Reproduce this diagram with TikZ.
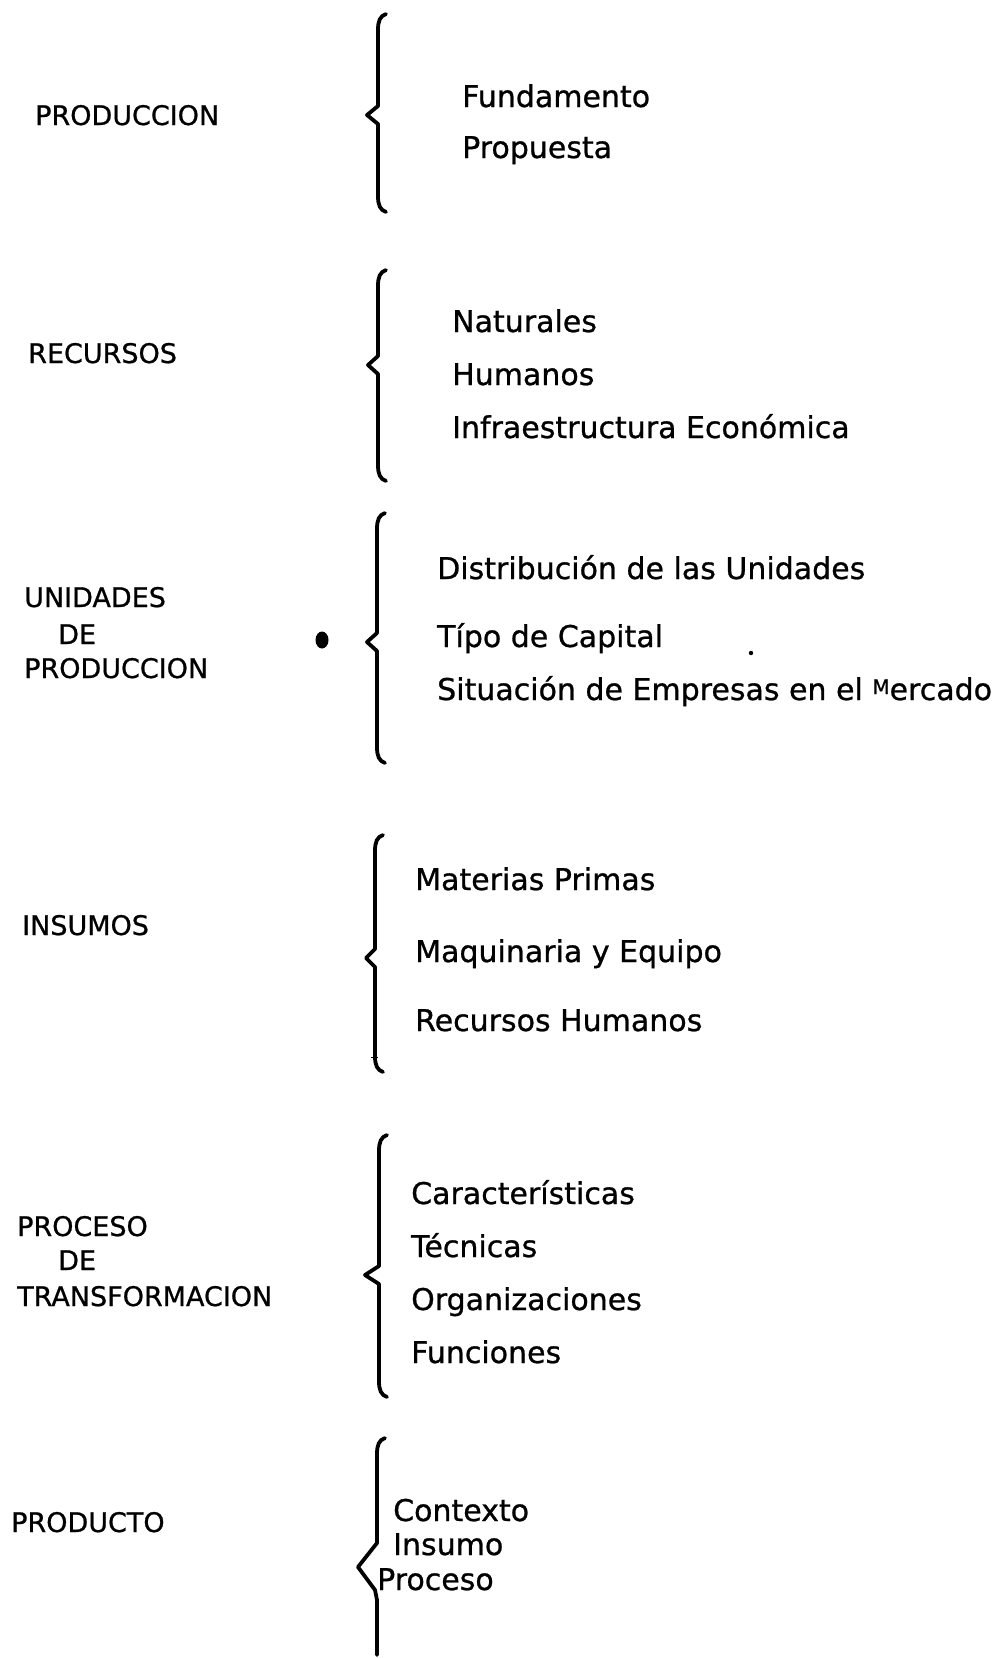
\documentclass[tikz,border=0pt]{standalone}
\usepackage{fontspec}
\setmainfont{DejaVu Sans}[FakeBold=0.8]
\newcommand\mybrace[5]{% x, top, tip, bottom, depth
 \draw[brc] ({#1+8},#2) .. controls ({#1+2},{#2+2}) and (#1,{#2+7}) .. (#1,{#2+16}) -- (#1,{#3-9}) -- ({#1-#5},#3) -- (#1,{#3+9}) -- (#1,{#4-16}) .. controls (#1,{#4-7}) and ({#1+2},{#4-2}) .. ({#1+8},#4);}
\begin{document}
\begin{tikzpicture}[x=1pt,y=-1pt,
  brc/.style={line width=3.8pt, line cap=round, line join=round},
  lbl/.style={anchor=base west, inner sep=0pt, font=\fontsize{27}{32}\selectfont},
  itm/.style={anchor=base west, inner sep=0pt, font=\fontsize{30}{36}\selectfont}]
\useasboundingbox[fill=white] (0,0) rectangle (1004,1658);

% left labels
\node[lbl] (l1) at (35,125) {PRODUCCION};
\node[lbl] (l2) at (28,363) {RECURSOS};
\node[lbl] (l3a) at (24,607) {UNIDADES};
\node[lbl] (l3b) at (58,644) {DE};
\node[lbl] (l3c) at (24,678) {PRODUCCION};
\node[lbl] (l4) at (22,935) {INSUMOS};
\node[lbl] (l5a) at (17,1236) {PROCESO};
\node[lbl] (l5b) at (58,1270) {DE};
\node[lbl] (l5c) at (17,1306) {TRANSFORMACION};
\node[lbl] (l6) at (11,1532) {PRODUCTO};

% braces
\mybrace{378}{14}{115}{212}{11}
\mybrace{378}{270}{365}{481}{10}
\mybrace{377}{513}{642}{763}{10}
\mybrace{375}{835}{958}{1072}{9}
\mybrace{379}{1135}{1275}{1397}{14}
\draw[brc] (385,1438) .. controls (379,1440) and (377,1445) .. (377,1454) -- (377,1543) -- (358,1567) -- (375,1590) -- (377,1600) -- (377,1655);
\draw[line width=1pt] (371,1057) -- (378,1057);

% marks
\fill (322,640) ellipse [x radius=6.5, y radius=8.5];
\fill (751,653) circle [radius=2.2];

% items
\node[itm] (i11) at (462,107) {Fundamento};
\node[itm] (i12) at (462,158) {Propuesta};
\node[itm] (i21) at (452,332) {Naturales};
\node[itm] (i22) at (452,385) {Humanos};
\node[itm] (i23) at (452,438) {Infraestructura Económica};
\node[itm] (i31) at (437,579) {Distribución de las Unidades};
\node[itm] (i32) at (437,647) {Típo de Capital};
\node[itm] (i33) at (437,700) {Situación de Empresas en el \raisebox{6pt}{\fontsize{20}{20}\selectfont M}ercado};
\node[itm] (i41) at (415,890) {Materias Primas};
\node[itm] (i42) at (415,962) {Maquinaria y Equipo};
\node[itm] (i43) at (415,1031) {Recursos Humanos};
\node[itm] (i51) at (411,1204) {Características};
\node[itm] (i52) at (411,1257) {Técnicas};
\node[itm] (i53) at (411,1310) {Organizaciones};
\node[itm] (i54) at (411,1363) {Funciones};
\node[itm] (i61) at (393,1521) {Contexto};
\node[itm] (i62) at (393,1555) {Insumo};
\node[itm] (i63) at (377,1590) {Proceso};
\end{tikzpicture}
\end{document}
